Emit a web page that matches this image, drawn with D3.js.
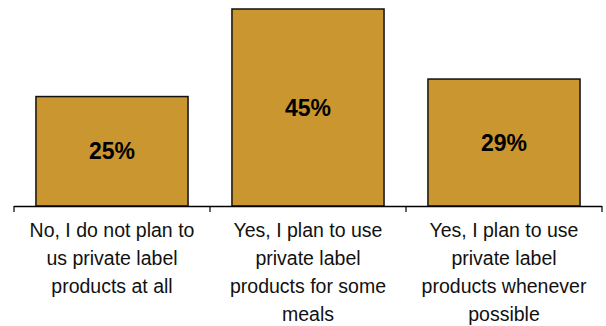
<!DOCTYPE html>
<html><head><meta charset="utf-8">
<script src="https://cdn.jsdelivr.net/npm/d3@7"></script>
<style>body{margin:0;background:#fff}svg{display:block}</style>
</head><body><svg id="c" width="606" height="326"></svg>
<script>
const categories = [
  ["No, I do not plan to", "us private label", "products at all"],
  ["Yes, I plan to use", "private label", "products for some", "meals"],
  ["Yes, I plan to use", "private label", "products whenever", "possible"]
];
const values = [25, 45, 29];
const valueLabels = ["25%", "45%", "29%"];

const svg = d3.select("#c");
const base = 206, left = 14, right = 602;
const x = d3.scaleBand().domain(d3.range(values.length)).range([left, right]).paddingInner(0.224).paddingOuter(0.112);
const y = d3.scaleLinear().domain([0, 45]).range([base, 9]);

svg.selectAll("rect.bar").data(values).join("rect")
  .attr("x", (d,i)=>x(i)).attr("width", x.bandwidth())
  .attr("y", d=>y(d)).attr("height", d=>base - y(d))
  .attr("fill", "#C9962F").attr("stroke", "#111").attr("stroke-width", 1.5);

svg.selectAll("text.val").data(values).join("text")
  .attr("x", (d,i)=>x(i)+x.bandwidth()/2).attr("y", d=>(y(d)+base)/2)
  .attr("text-anchor","middle").attr("dominant-baseline","central")
  .attr("font-family","Liberation Sans, Arial, sans-serif").attr("font-weight","bold").attr("font-size",23)
  .attr("fill","#000").text((d,i)=>valueLabels[i]);

// axis
const step = (right-left)/values.length;
svg.append("line").attr("x1",left).attr("x2",right).attr("y1",base+0.5).attr("y2",base+0.5).attr("stroke","#000").attr("stroke-width",1.5);
d3.range(values.length+1).forEach(i=>{
  const tx = left + i*step;
  svg.append("line").attr("x1",tx).attr("x2",tx).attr("y1",base).attr("y2",base+6).attr("stroke","#000").attr("stroke-width",1.2);
});

categories.forEach((lines,i)=>{
  const cx = x(i)+x.bandwidth()/2;
  const t = svg.append("text").attr("text-anchor","middle")
    .attr("font-family","Liberation Sans, Arial, sans-serif").attr("font-size",19.5).attr("fill","#111");
  lines.forEach((l,j)=>t.append("tspan").attr("x",cx).attr("y",237+j*28).text(l));
});
</script></body></html>
